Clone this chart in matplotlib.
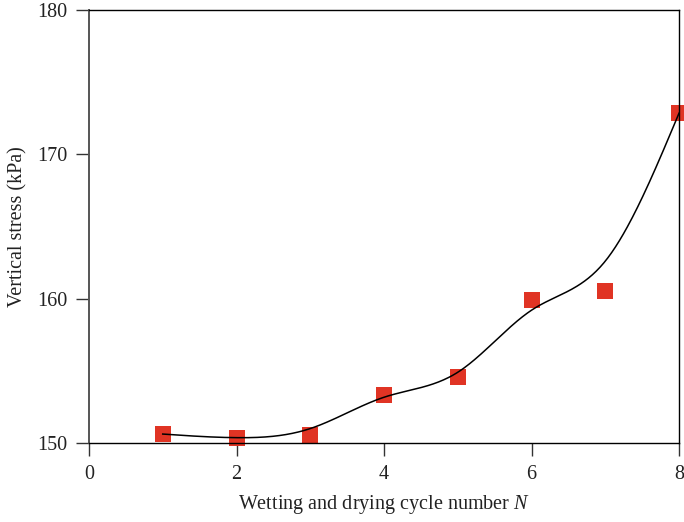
import numpy as np
import matplotlib
matplotlib.use("Agg")
import matplotlib.pyplot as plt

plt.rcParams['font.family'] = ['Liberation Serif', 'DejaVu Serif']
plt.rcParams['mathtext.fontset'] = 'custom'
plt.rcParams['mathtext.rm'] = 'Liberation Serif'
plt.rcParams['mathtext.it'] = 'Liberation Serif:italic'

# Measured data
cycles = [1, 2, 3, 4, 5, 6, 7, 8]
stress = [150.65, 150.35, 150.55, 153.3, 154.6, 159.9, 160.5, 172.85]

# Smooth fit curve knot values (at each cycle)
fit_knots_x = [1, 2, 3, 4, 5, 6, 7, 8]
fit_knots_y = [150.62, 150.37, 151.0, 153.17, 154.9, 159.2, 162.6, 172.85]

x_ticks = [0, 2, 4, 6, 8]
y_ticks = [150, 160, 170, 180]


def natural_cubic_spline(xk, yk, xs):
    xk = np.asarray(xk, float)
    yk = np.asarray(yk, float)
    n = len(xk)
    h = np.diff(xk)
    A = np.zeros((n, n))
    b = np.zeros(n)
    A[0, 0] = 1
    A[-1, -1] = 1
    for i in range(1, n - 1):
        A[i, i - 1] = h[i - 1]
        A[i, i] = 2 * (h[i - 1] + h[i])
        A[i, i + 1] = h[i]
        b[i] = 3 * ((yk[i + 1] - yk[i]) / h[i] - (yk[i] - yk[i - 1]) / h[i - 1])
    c = np.linalg.solve(A, b)
    ys = np.empty_like(xs)
    for j, x in enumerate(xs):
        i = min(max(np.searchsorted(xk, x) - 1, 0), n - 2)
        dx = x - xk[i]
        bb = (yk[i + 1] - yk[i]) / h[i] - h[i] * (2 * c[i] + c[i + 1]) / 3
        d = (c[i + 1] - c[i]) / (3 * h[i])
        ys[j] = yk[i] + bb * dx + c[i] * dx ** 2 + d * dx ** 3
    return ys


fig = plt.figure(figsize=(6.84, 5.22), dpi=100)
ax = fig.add_axes([89 / 684, 79 / 522, 590 / 684, 433 / 522])

xs = np.linspace(fit_knots_x[0], fit_knots_x[-1], 400)
ax.plot(xs, natural_cubic_spline(fit_knots_x, fit_knots_y, xs), color='black', lw=1.1, zorder=3)
ax.plot(cycles, stress, linestyle='none', marker='s', markersize=11.5,
        color='#E03424', markeredgewidth=0, clip_on=False, zorder=2)

ax.set_xlim(0, 8)
ax.set_ylim(150, 180)
ax.set_xticks(x_ticks)
ax.set_yticks(y_ticks)

for s in ['top', 'right', 'bottom']:
    ax.spines[s].set_color('black')
    ax.spines[s].set_linewidth(1.0)
ax.spines['left'].set_color('#555555')
ax.spines['left'].set_linewidth(1.4)

ax.tick_params(axis='both', direction='out', length=9.5, width=1.0, color='#333333',
               labelsize=14.5, labelcolor='#222222')
ax.tick_params(axis='y', pad=6)
ax.tick_params(axis='x', pad=6)

ax.set_xlabel('Wetting and drying cycle number $N$', fontsize=14.5, color='#222222', labelpad=7)
ax.set_ylabel('Vertical stress (kPa)', fontsize=14.5, color='#222222', labelpad=7)

fig.savefig('out.png', dpi=100)
